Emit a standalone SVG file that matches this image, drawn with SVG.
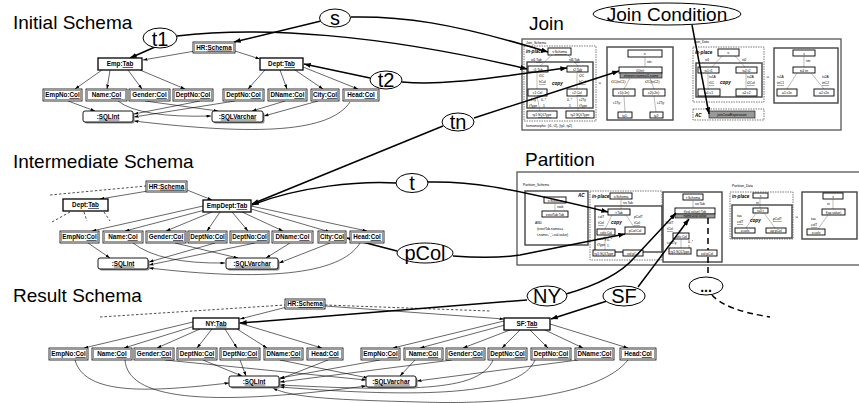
<svg xmlns="http://www.w3.org/2000/svg" width="859" height="403" viewBox="0 0 859 403">
<defs>
<style>
text{font-family:"Liberation Sans",Arial,sans-serif;fill:#000}
.h{font-size:19px}
.lb{font-size:6.3px;font-weight:bold;text-anchor:middle}
.u{text-decoration:underline}
.el{fill:#fff;stroke:#000;stroke-width:1}
.et{font-size:20px;text-anchor:middle}
.ln{stroke:#000;stroke-width:0.6;fill:none;marker-end:url(#a)}
.tk{stroke:#000;stroke-width:1.5;fill:none;marker-end:url(#b)}
.ds{stroke:#000;stroke-width:0.7;fill:none;stroke-dasharray:2.5 2}
.dk{stroke:#000;stroke-width:1.5;fill:none;stroke-dasharray:6 4}
.bo{fill:#fff;stroke:#000;stroke-width:0.8}
.bi{fill:none;stroke:#9a9a9a;stroke-width:1}
.tb{fill:#fff;stroke:#000;stroke-width:1.3}
.sh{fill:#888}
.ty{fill:#fff;stroke:#000;stroke-width:0.9}
.frame{fill:#fff;stroke:#555;stroke-width:1.3}
.m{font-size:3.3px}
.mc{font-size:3.3px;text-anchor:middle}
.mi{font-size:4.6px;font-weight:bold;font-style:italic}
.mb{fill:#fff;stroke:#000;stroke-width:0.9}
.mg{fill:#999;stroke:#000;stroke-width:0.6}
.mt{fill:none;stroke:#444;stroke-width:1.4}
.md{fill:none;stroke:#444;stroke-width:0.7;stroke-dasharray:1.5 1}
.ml{stroke:#555;stroke-width:0.4;fill:none}
</style>
<marker id="a" viewBox="0 0 6 4" refX="6" refY="2" markerWidth="4.5" markerHeight="3" orient="auto" markerUnits="userSpaceOnUse"><path d="M0,0 L6,2 L0,4z"/></marker>
<marker id="b" viewBox="0 0 8 6" refX="8" refY="3" markerWidth="7" markerHeight="5" orient="auto" markerUnits="userSpaceOnUse"><path d="M0,0 L8,3 L0,6z"/></marker>
</defs>
<rect width="859" height="403" fill="#fff"/>

<!-- section titles -->
<text class="h" x="13" y="29">Initial Schema</text>
<text class="h" x="13" y="168">Intermediate Schema</text>
<text class="h" x="13" y="302">Result Schema</text>
<text class="h" x="529" y="30">Join</text>
<text class="h" x="525" y="166">Partition</text>

<!-- Join transformation panel -->
<g id="join">
<rect class="frame" x="522" y="39" width="319" height="91"/>
<text class="m" x="526" y="44">Join_Schema</text>
<rect class="md" x="524" y="46" width="72" height="75"/>
<text class="mi" x="526" y="53">in-place</text>
<rect class="mt" x="527" y="62" width="66" height="46"/>
<line class="ml" x1="552" y1="55" x2="540" y2="66"/><line class="ml" x1="568" y1="55" x2="578" y2="66"/>
<rect class="mb" x="548" y="48" width="23" height="7"/><text class="mc" x="559.5" y="53">s:<tspan class="u">Schema</tspan></text>
<text class="m" x="531" y="61">st1:<tspan class="u">Tab</tspan></text><text class="m" x="569" y="61">st2:<tspan class="u">Tab</tspan></text>
<rect class="mb" x="528" y="66" width="20" height="6"/><text class="mc" x="538" y="70.5">t1:<tspan class="u">Tab</tspan></text>
<rect class="mb" x="567" y="66" width="21" height="6"/><text class="mc" x="577.5" y="70.5">t2:<tspan class="u">Tab</tspan></text>
<line class="ml" x1="537" y1="72" x2="537" y2="89"/><line class="ml" x1="577" y1="72" x2="577" y2="89"/>
<text class="m" x="539" y="77">t1C</text><text class="m" x="539" y="83"><tspan class="u">hCol</tspan></text>
<text class="m" x="579" y="77">t2C</text><text class="m" x="579" y="83"><tspan class="u">hCol</tspan></text>
<text class="mi" x="552" y="85">copy</text>
<rect class="mb" x="528" y="89" width="19" height="7"/><text class="mc" x="537.5" y="94">c1:<tspan class="u">Col</tspan></text>
<rect class="mb" x="567" y="89" width="20" height="7"/><text class="mc" x="577" y="94">c2:<tspan class="u">Col</tspan></text>
<line class="ml" x1="537" y1="96" x2="540" y2="111"/><line class="ml" x1="577" y1="96" x2="578" y2="111"/>
<text class="m" x="529" y="101">c1Ty</text><text class="m" x="541" y="101">0..*</text><text class="m" x="529" y="107">tType</text><text class="m" x="543" y="107">1</text>
<text class="m" x="567" y="101">0..*</text><text class="m" x="579" y="101">c2Ty</text><text class="m" x="569" y="107">1</text><text class="m" x="579" y="107">tType</text>
<rect class="mb" x="527" y="111" width="30" height="7" stroke-width="1.3"/><text class="mc" x="542" y="116">ty1:<tspan class="u">SQLType</tspan></text>
<rect class="mb" x="566" y="111" width="28" height="7" stroke-width="1.3"/><text class="mc" x="580" y="116">ty2:<tspan class="u">SQLType</tspan></text>
<text class="m" x="526" y="127">homomorphic: {t1, t2}, {ty1, ty2}</text>
<text class="m" x="598" y="84" font-size="4">:=</text>
<rect class="mt" x="607" y="47" width="66" height="73"/>
<rect class="mb" x="628" y="50" width="34" height="7"/><text class="mc" x="645" y="55">s:</text>
<line class="ml" x1="645" y1="57" x2="645" y2="67"/><text class="m" x="647" y="63">stn:</text>
<rect class="mb" x="619" y="67" width="43" height="6"/><text class="mc" x="640.5" y="71.5">t1(tn):</text>
<rect class="mg" x="620" y="73" width="42" height="5"/><text class="mc" x="641" y="77">element.name=t1.name</text>
<text class="m" x="611" y="83">t1C(tnC1):</text><text class="m" x="645" y="83">t2C(tnC2):</text>
<line class="ml" x1="630" y1="78" x2="624" y2="89"/><line class="ml" x1="650" y1="78" x2="654" y2="89"/>
<rect class="mb" x="613" y="89" width="22" height="7"/><text class="mc" x="624" y="94">c1(c1n):</text>
<rect class="mb" x="643" y="89" width="22" height="7"/><text class="mc" x="654" y="94">c2(c2n):</text>
<line class="ml" x1="624" y1="96" x2="625" y2="112"/><line class="ml" x1="654" y1="96" x2="656" y2="112"/>
<text class="m" x="613" y="104">c1Ty:</text><text class="m" x="657" y="104">c2Ty:</text>
<rect class="mb" x="618" y="112" width="14" height="6"/><text class="mc" x="625" y="116.5">ty1:</text>
<rect class="mb" x="650" y="112" width="13" height="6"/><text class="mc" x="656.5" y="116.5">ty2:</text>
<text class="m" x="694" y="43">Join_Data</text>
<rect class="md" x="693" y="47" width="71" height="55"/>
<text class="mi" x="695" y="54">in-place</text>
<rect class="mt" x="696" y="63" width="66" height="34"/>
<line class="ml" x1="722" y1="56" x2="712" y2="67"/><line class="ml" x1="735" y1="56" x2="745" y2="67"/>
<rect class="mb" x="718" y="49" width="21" height="7"/><text class="mc" x="728.5" y="54">s:</text>
<text class="m" x="705" y="61">st1</text><text class="m" x="742" y="61">st2</text>
<rect class="mb" x="698" y="67" width="21" height="6"/><text class="mc" x="708.5" y="71.5">tu1:t1</text>
<rect class="mb" x="736" y="67" width="21" height="6"/><text class="mc" x="746.5" y="71.5">tu2:t2</text>
<line class="ml" x1="708" y1="73" x2="708" y2="89"/><line class="ml" x1="746" y1="73" x2="746" y2="89"/>
<text class="m" x="709" y="78">tu1A</text><text class="m" x="709" y="84"><tspan class="u">t1C</tspan></text>
<text class="m" x="747" y="78">tu2A</text><text class="m" x="747" y="84"><tspan class="u">t2Col</tspan></text>
<text class="mi" x="720" y="84">copy</text>
<rect class="mb" x="698" y="89" width="22" height="7"/><text class="mc" x="709" y="94">a1:c1</text>
<rect class="mb" x="736" y="89" width="21" height="7"/><text class="mc" x="746.5" y="94">a2:c2</text>
<text class="m" x="766" y="78" font-size="4">:=</text>
<rect class="mt" x="774" y="48" width="64" height="55"/>
<rect class="mb" x="793" y="50" width="22" height="6"/><text class="mc" x="804" y="54.5">s</text>
<line class="ml" x1="804" y1="56" x2="804" y2="67"/><text class="m" x="806" y="62">stn</text>
<rect class="mb" x="793" y="67" width="22" height="6"/><text class="mc" x="804" y="71.5">tu1:tn</text>
<line class="ml" x1="797" y1="73" x2="787" y2="89"/><line class="ml" x1="811" y1="73" x2="824" y2="89"/>
<text class="m" x="777" y="78">tu1A</text><text class="m" x="777" y="84"><tspan class="u">tnC1</tspan></text>
<text class="m" x="822" y="78">tu2A</text><text class="m" x="822" y="84"><tspan class="u">tnC2</tspan></text>
<rect class="mb" x="777" y="89" width="20" height="7"/><text class="mc" x="787" y="94">a1:c1n</text>
<rect class="mb" x="814" y="89" width="20" height="7"/><text class="mc" x="824" y="94">a2:c2n</text>
<rect class="md" x="693" y="109" width="71" height="11"/>
<text class="mi" x="695" y="117">AC</text>
<rect class="mg" x="709" y="111" width="46" height="7"/><text class="mc" x="732" y="116">joinCondExpression</text>
</g>

<!-- Partition transformation panel -->
<g id="partition">
<rect class="frame" x="517" y="172" width="360" height="93"/>
<text class="m" x="523" y="186">Partition_Schema</text>
<rect class="mt" x="525" y="191" width="63" height="54"/>
<text class="mi" x="578" y="197">AC</text>
<rect class="mb" x="544" y="197" width="22" height="6" stroke-width="1.3"/><text class="mc" x="555" y="201.5">s:Schema</text>
<line class="ml" x1="555" y1="203" x2="555" y2="211"/><text class="m" x="557" y="208">stab</text>
<rect class="mb" x="542" y="211" width="26" height="6" stroke-width="1.3"/><text class="mc" x="555" y="215.5">existTab:Tab</text>
<text class="m" x="535" y="224">AND</text>
<text class="m" x="537" y="230">(existTab.name==</text>
<text class="m" x="537" y="236">t.name+'_'+val.value)</text>
<rect class="md" x="590" y="191" width="72" height="69"/>
<text class="mi" x="592" y="198">in-place</text>
<rect class="mb" x="610" y="193" width="22" height="6"/><text class="mc" x="621" y="197.5">s:Schema</text>
<line class="ml" x1="621" y1="199" x2="621" y2="209"/><text class="m" x="623" y="204">srcTab</text>
<rect class="mt" x="595" y="206" width="67" height="46"/>
<rect class="mb" x="608" y="209" width="22" height="6"/><text class="mc" x="619" y="213.5">t:Tab</text>
<text class="m" x="598" y="218">colT</text><text class="m" x="598" y="224"><tspan class="u">tCol</tspan></text>
<text class="m" x="634" y="218">pColT</text><text class="m" x="634" y="224"><tspan class="u">tCol</tspan></text>
<line class="ml" x1="612" y1="215" x2="605" y2="229"/><line class="ml" x1="626" y1="215" x2="634" y2="227"/>
<text class="mi" x="611" y="224">copy</text>
<rect class="mb" x="597" y="229" width="18" height="6"/><text class="mc" x="606" y="233.5">cols:Col</text>
<rect class="mb" x="625" y="227" width="20" height="7"/><text class="mc" x="635" y="232">pCol:Col</text>
<line class="ml" x1="605" y1="235" x2="605" y2="250"/>
<text class="m" x="597" y="240">colsTy</text><text class="m" x="607" y="241">0..*</text><text class="m" x="597" y="246">tType</text><text class="m" x="607" y="247">1</text>
<rect class="mb" x="593" y="250" width="22" height="6" stroke-width="1.3"/><text class="mc" x="604" y="254.5">ty1:SQLType</text>
<rect class="mb" x="623" y="250" width="20" height="6" stroke-width="1.3"/><text class="mc" x="633" y="254.5">val:pCol</text>
<text class="m" x="665" y="223" font-size="4">:=</text>
<rect class="mt" x="663" y="192" width="59" height="70"/>
<rect class="mb" x="683" y="194" width="20" height="6"/><text class="mc" x="693" y="198.5">r:Schema</text>
<line class="ml" x1="693" y1="200" x2="693" y2="208"/><text class="m" x="695" y="205">srcTab</text>
<rect class="mb" x="675" y="208" width="40" height="6" stroke-width="1.3"/><text class="mc" x="695" y="212.5">f(val.value):Tab</text>
<rect class="mg" x="675" y="214" width="40" height="4"/><text class="mc" x="695" y="217.3">name=val.value</text>
<text class="m" x="667" y="224">colT</text><text class="m" x="667" y="230"><tspan class="u">tCol</tspan></text>
<line class="ml" x1="688" y1="218" x2="680" y2="233"/>
<rect class="mb" x="673" y="233" width="16" height="6"/><text class="mc" x="681" y="237.5">cols:Col</text>
<line class="ml" x1="681" y1="239" x2="681" y2="248"/>
<text class="m" x="667" y="244">colsTy</text><text class="m" x="688" y="243">0..*</text><text class="m" x="688" y="248">1</text>
<rect class="mb" x="669" y="248" width="22" height="6" stroke-width="1.3"/><text class="mc" x="680" y="252.5">ty1:SQLType</text>
<rect class="mb" x="697" y="250" width="20" height="6" stroke-width="1.3"/><text class="mc" x="707" y="254.5">val:pCol</text>
<text class="m" x="732" y="187">Partition_Data</text>
<rect class="md" x="730" y="192" width="63" height="47"/>
<text class="mi" x="732" y="198">in-place</text>
<rect class="mb" x="753" y="193" width="15" height="5"/><text class="mc" x="760.5" y="197">s</text>
<line class="ml" x1="760" y1="198" x2="760" y2="208"/><text class="m" x="756" y="204">st</text>
<rect class="mt" x="732" y="205" width="60" height="33"/>
<rect class="mb" x="753" y="208" width="15" height="5"/><text class="mc" x="760.5" y="212">tu1:t</text>
<text class="m" x="737" y="217">tua</text><text class="m" x="737" y="223"><tspan class="u">colT</tspan></text>
<text class="m" x="773" y="220"><tspan class="u">pColT</tspan></text>
<text class="mi" x="750" y="222">copy</text>
<line class="ml" x1="756" y1="213" x2="746" y2="228"/><line class="ml" x1="764" y1="213" x2="775" y2="228"/>
<rect class="mb" x="735" y="228" width="20" height="5"/><text class="mc" x="745" y="232">a:cols</text>
<rect class="mb" x="766" y="228" width="20" height="5"/><text class="mc" x="776" y="232">ap:pCol</text>
<text class="m" x="795" y="218" font-size="4">:=</text>
<rect class="mt" x="802" y="192" width="55" height="47"/>
<rect class="mb" x="823" y="193" width="20" height="6"/><text class="mc" x="833" y="197.5">s</text>
<line class="ml" x1="833" y1="199" x2="833" y2="209"/><text class="m" x="827" y="205">st</text>
<rect class="mb" x="822" y="209" width="23" height="6"/><text class="mc" x="833.5" y="213.5">f(ap.value)</text>
<text class="m" x="811" y="220">tua</text><text class="m" x="811" y="226"><tspan class="u">colT</tspan></text>
<line class="ml" x1="828" y1="215" x2="818" y2="229"/>
<rect class="mb" x="807" y="229" width="18" height="6"/><text class="mc" x="816" y="233.5">a:cols</text>
</g>

<!-- connectors -->
<g id="connectors">
<!-- initial schema -->
<path class="ln" d="M195,51 L143,60"/>
<path class="ln" d="M235,51 L260,59"/>
<path class="ln" d="M102,70 L75,89"/>
<path class="ln" d="M110,70 L107,89"/>
<path class="ln" d="M128,70 L142,89"/>
<path class="ln" d="M140,70 L185,89"/>
<path class="ln" d="M265,70 L248,89"/>
<path class="ln" d="M280,70 L287,89"/>
<path class="ln" d="M295,70 L323,89"/>
<path class="ln" d="M303,67 L358,89"/>
<path class="ln" d="M68,101 L95,111"/>
<path class="ln" d="M118,101 Q140,118 211,116"/>
<path class="ln" d="M145,101 L218,111"/>
<path class="ln" d="M200,101 L134,114"/>
<path class="ln" d="M235,101 L134,117"/>
<path class="ln" d="M285,101 L252,111"/>
<path class="ln" d="M318,101 L264,116"/>
<path class="ln" d="M350,102 C330,132 260,136 134,121"/>
<!-- intermediate schema -->
<path class="ds" d="M50,195 L146,186"/>
<path class="ln" d="M148,191 L100,199"/>
<path class="ln" d="M187,190 L212,200"/>
<path class="ds" d="M70,212 L52,222 M84,212 L87,221 M104,212 L110,221"/>
<path class="ln" d="M203,206 L92,231"/>
<path class="ln" d="M205,210 L125,231"/>
<path class="ln" d="M212,212 L166,231"/>
<path class="ln" d="M220,212 L207,231"/>
<path class="ln" d="M232,212 L248,231"/>
<path class="ln" d="M242,212 L283,231"/>
<path class="ln" d="M251,209 L330,232"/>
<path class="ln" d="M251,206 L367,231"/>
<path class="ln" d="M88,243 L110,258"/>
<path class="ln" d="M133,243 Q160,264 225,263"/>
<path class="ln" d="M175,243 L238,258"/>
<path class="ln" d="M215,243 L149,262"/>
<path class="ln" d="M255,243 L149,265"/>
<path class="ln" d="M290,243 L266,258"/>
<path class="ln" d="M330,243 L279,263"/>
<path class="ln" d="M360,243 C340,276 260,281 149,268"/>
<!-- result schema -->
<path class="ds" d="M100,317 L285,305 M325,305 L490,311"/>
<path class="ln" d="M287,307 L240,319"/>
<path class="ln" d="M325,306 L504,319"/>
<path class="ln" d="M193,322 L84,348"/>
<path class="ln" d="M195,326 L124,348"/>
<path class="ln" d="M200,329 L157,348"/>
<path class="ln" d="M212,329 L197,348"/>
<path class="ln" d="M225,329 L237,348"/>
<path class="ln" d="M237,329 L267,348"/>
<path class="ln" d="M239,323 L322,348"/>
<path class="ln" d="M504,321 L393,348"/>
<path class="ln" d="M505,325 L420,348"/>
<path class="ln" d="M510,330 L463,348"/>
<path class="ln" d="M520,330 L502,348"/>
<path class="ln" d="M530,330 L548,348"/>
<path class="ln" d="M545,330 L583,348"/>
<path class="ln" d="M550,324 L628,348"/>
<path class="ln" d="M75,360 C85,396 150,392 229,383"/>
<path class="ln" d="M125,360 C128,398 200,408 366,386"/>
<path class="ln" d="M165,360 L366,380"/>
<path class="ln" d="M203,360 L242,376"/>
<path class="ln" d="M240,360 L246,376"/>
<path class="ln" d="M280,360 L368,378"/>
<path class="ln" d="M328,360 L280,379"/>
<path class="ln" d="M380,360 L280,378"/>
<path class="ln" d="M415,360 L400,376"/>
<path class="ln" d="M452,360 L280,382"/>
<path class="ln" d="M493,360 C480,390 420,392 280,385"/>
<path class="ln" d="M535,360 C520,396 420,398 280,387"/>
<path class="ln" d="M578,360 L417,381"/>
<path class="ln" d="M628,360 C600,396 500,405 420,402 C340,400 292,398 273,388"/>
<!-- mapping labels to schema elements -->
<path class="tk" d="M321,21 L234,42"/>
<path class="tk" d="M351,17 C400,16 450,22 548,52"/>
<path class="tk" d="M155,47 L130,58"/>
<path class="tk" d="M177,36 C260,26 380,34 527,69"/>
<path class="tk" d="M370,78 L304,64"/>
<path class="tk" d="M402,82 C450,86 500,76 567,68"/>
<path class="tk" d="M443,126 L252,204"/>
<path class="tk" d="M474,118 L619,71"/>
<path class="tk" d="M396,183 C360,181 300,186 252,205"/>
<path class="tk" d="M428,182 C470,181 500,186 608,212"/>
<path class="tk" d="M397,251 L347,238"/>
<path class="tk" d="M453,256 C480,258 500,258 520,255 L625,234"/>
<path class="tk" d="M527,300 L240,323"/>
<path class="tk" d="M566,294 Q615,280 634,258 L676,213"/>
<path class="tk" d="M607,301 L551,319"/>
<path class="tk" d="M638,287 L689,219"/>
<path class="tk" d="M692,25 L709,114"/>
<path class="dk" d="M708,218 L708,250 M708,257 L708,277"/>
<path class="dk" d="M712,295 Q725,310 770,317"/>
</g>

<!-- label ellipses -->
<g id="lbl-s"><ellipse class="el" cx="335" cy="18" rx="15.5" ry="9"/><text class="et" x="335" y="25">s</text></g>
<g id="lbl-t1"><ellipse class="el" cx="160" cy="38" rx="17" ry="10"/><text class="et" x="160" y="45.5">t1</text></g>
<g id="lbl-t2"><ellipse class="el" cx="386" cy="80" rx="16" ry="9"/><text class="et" x="386" y="87">t2</text></g>
<g id="lbl-tn"><ellipse class="el" cx="458" cy="122" rx="16" ry="9"/><text class="et" x="458" y="129">tn</text></g>
<g id="lbl-t"><ellipse class="el" cx="412" cy="183" rx="16" ry="9.5"/><text class="et" x="412" y="190">t</text></g>
<g id="lbl-pcol"><ellipse class="el" cx="425" cy="253" rx="28" ry="10"/><text class="et" x="425" y="260">pCol</text></g>
<g id="lbl-ny"><ellipse class="el" cx="547" cy="296" rx="20" ry="10"/><text class="et" x="547" y="303">NY</text></g>
<g id="lbl-sf"><ellipse class="el" cx="624" cy="296" rx="21" ry="10"/><text class="et" x="624" y="303">SF</text></g>
<g id="lbl-more"><ellipse class="el" cx="706" cy="286" rx="17" ry="9"/><text x="706" y="292" font-size="14" font-weight="bold" text-anchor="middle">...</text></g>
<g id="lbl-joincond"><ellipse class="el" cx="667" cy="14" rx="74" ry="11"/><text class="et" x="667" y="21" style="font-size:19px">Join Condition</text></g>

<!-- initial schema nodes -->
<g id="i-hr"><rect class="bo" x="193" y="42" width="42" height="11"/><rect class="bi" x="194.5" y="43.5" width="39" height="8"/><text class="lb" x="214" y="49.7">HR:<tspan class="u">Schema</tspan></text></g>
<g id="i-emp"><rect class="tb" x="98" y="58" width="44" height="12"/><text class="lb" x="120" y="66.2">Emp:<tspan class="u">Tab</tspan></text></g>
<g id="i-dept"><rect class="tb" x="260" y="58" width="43" height="12"/><text class="lb" x="281.5" y="66.2">Dept:<tspan class="u">Tab</tspan></text></g>
<g id="i-empno"><rect class="bo" x="43" y="89" width="39" height="12"/><rect class="bi" x="44.5" y="90.5" width="36" height="9"/><text class="lb" x="62.5" y="97.2">EmpNo:<tspan class="u">Col</tspan></text></g>
<g id="i-name"><rect class="bo" x="86" y="89" width="41" height="12"/><rect class="bi" x="87.5" y="90.5" width="38" height="9"/><text class="lb" x="106.5" y="97.2">Name:<tspan class="u">Col</tspan></text></g>
<g id="i-gender"><rect class="bo" x="129" y="89" width="41" height="12"/><rect class="bi" x="130.5" y="90.5" width="38" height="9"/><text class="lb" x="149.5" y="97.2">Gender:<tspan class="u">Col</tspan></text></g>
<g id="i-deptno1"><rect class="bo" x="173" y="89" width="40" height="12"/><rect class="bi" x="174.5" y="90.5" width="37" height="9"/><text class="lb" x="193" y="97.2">DeptNo:<tspan class="u">Col</tspan></text></g>
<g id="i-deptno2"><rect class="bo" x="223" y="89" width="41" height="12"/><rect class="bi" x="224.5" y="90.5" width="38" height="9"/><text class="lb" x="243.5" y="97.2">DeptNo:<tspan class="u">Col</tspan></text></g>
<g id="i-dname"><rect class="bo" x="268" y="89" width="39" height="12"/><rect class="bi" x="269.5" y="90.5" width="36" height="9"/><text class="lb" x="287.5" y="97.2">DName:<tspan class="u">Col</tspan></text></g>
<g id="i-city"><rect class="bo" x="311" y="89" width="28" height="12"/><rect class="bi" x="312.5" y="90.5" width="25" height="9"/><text class="lb" x="325" y="97.2">City:<tspan class="u">Col</tspan></text></g>
<g id="i-head"><rect class="bo" x="343" y="89" width="36" height="12"/><rect class="bi" x="344.5" y="90.5" width="33" height="9"/><text class="lb" x="361" y="97.2">Head:<tspan class="u">Col</tspan></text></g>
<g id="i-sqlint"><rect class="sh" x="84.5" y="112.5" width="50" height="11" rx="2"/><rect class="ty" x="83" y="111" width="50" height="11" rx="2"/><text class="lb" x="108" y="118.7">:<tspan class="u">SQLInt</tspan></text></g>
<g id="i-sqlvarchar"><rect class="sh" x="213.5" y="112.5" width="51" height="11" rx="2"/><rect class="ty" x="212" y="111" width="51" height="11" rx="2"/><text class="lb" x="237.5" y="118.7">:<tspan class="u">SQLVarchar</tspan></text></g>

<!-- intermediate schema nodes -->
<g id="m-hr"><rect class="bo" x="146" y="181" width="41" height="11"/><rect class="bi" x="147.5" y="182.5" width="38" height="8"/><text class="lb" x="166.5" y="188.7">HR:<tspan class="u">Schema</tspan></text></g>
<g id="m-dept"><rect class="tb" x="63" y="199" width="45" height="12"/><text class="lb" x="85.5" y="207.2">Dept:<tspan class="u">Tab</tspan></text></g>
<g id="m-empdept"><rect class="tb" x="203" y="200" width="48" height="12"/><text class="lb" x="227" y="208.2">EmpDept:<tspan class="u">Tab</tspan></text></g>
<g id="m-empno"><rect class="bo" x="60" y="231" width="39" height="12"/><rect class="bi" x="61.5" y="232.5" width="36" height="9"/><text class="lb" x="79.5" y="239.2">EmpNo:<tspan class="u">Col</tspan></text></g>
<g id="m-name"><rect class="bo" x="103" y="231" width="40" height="12"/><rect class="bi" x="104.5" y="232.5" width="37" height="9"/><text class="lb" x="123" y="239.2">Name:<tspan class="u">Col</tspan></text></g>
<g id="m-gender"><rect class="bo" x="146" y="231" width="40" height="12"/><rect class="bi" x="147.5" y="232.5" width="37" height="9"/><text class="lb" x="166" y="239.2">Gender:<tspan class="u">Col</tspan></text></g>
<g id="m-deptno1"><rect class="bo" x="188" y="231" width="39" height="12"/><rect class="bi" x="189.5" y="232.5" width="36" height="9"/><text class="lb" x="207.5" y="239.2">DeptNo:<tspan class="u">Col</tspan></text></g>
<g id="m-deptno2"><rect class="bo" x="230" y="231" width="39" height="12"/><rect class="bi" x="231.5" y="232.5" width="36" height="9"/><text class="lb" x="249.5" y="239.2">DeptNo:<tspan class="u">Col</tspan></text></g>
<g id="m-dname"><rect class="bo" x="272" y="231" width="41" height="12"/><rect class="bi" x="273.5" y="232.5" width="38" height="9"/><text class="lb" x="292.5" y="239.2">DName:<tspan class="u">Col</tspan></text></g>
<g id="m-city"><rect class="bo" x="318" y="231" width="28" height="12"/><rect class="bi" x="319.5" y="232.5" width="25" height="9"/><text class="lb" x="332" y="239.2">City:<tspan class="u">Col</tspan></text></g>
<g id="m-head"><rect class="bo" x="350" y="231" width="34" height="12"/><rect class="bi" x="351.5" y="232.5" width="31" height="9"/><text class="lb" x="367" y="239.2">Head:<tspan class="u">Col</tspan></text></g>
<g id="m-sqlint"><rect class="sh" x="99.5" y="259.5" width="50" height="11" rx="2"/><rect class="ty" x="98" y="258" width="50" height="11" rx="2"/><text class="lb" x="123" y="265.7">:<tspan class="u">SQLInt</tspan></text></g>
<g id="m-sqlvarchar"><rect class="sh" x="227.5" y="259.5" width="52" height="11" rx="2"/><rect class="ty" x="226" y="258" width="52" height="11" rx="2"/><text class="lb" x="252" y="265.7">:<tspan class="u">SQLVarchar</tspan></text></g>

<!-- result schema nodes -->
<g id="r-hr"><rect class="bo" x="285" y="299" width="40" height="10"/><rect class="bi" x="286.5" y="300.5" width="37" height="7"/><text class="lb" x="305" y="306.2">HR:<tspan class="u">Schema</tspan></text></g>
<g id="r-ny"><rect class="tb" x="193" y="318" width="46" height="11"/><text class="lb" x="216" y="325.7">NY:<tspan class="u">Tab</tspan></text></g>
<g id="r-sf"><rect class="tb" x="504" y="318" width="46" height="12"/><text class="lb" x="527" y="326.2">SF:<tspan class="u">Tab</tspan></text></g>
<g id="r-ny-empno"><rect class="bo" x="49" y="348" width="39" height="12"/><rect class="bi" x="50.5" y="349.5" width="36" height="9"/><text class="lb" x="68.5" y="356.2">EmpNo:<tspan class="u">Col</tspan></text></g>
<g id="r-ny-name"><rect class="bo" x="92" y="348" width="40" height="12"/><rect class="bi" x="93.5" y="349.5" width="37" height="9"/><text class="lb" x="112" y="356.2">Name:<tspan class="u">Col</tspan></text></g>
<g id="r-ny-gender"><rect class="bo" x="134" y="348" width="40" height="12"/><rect class="bi" x="135.5" y="349.5" width="37" height="9"/><text class="lb" x="154" y="356.2">Gender:<tspan class="u">Col</tspan></text></g>
<g id="r-ny-deptno1"><rect class="bo" x="177" y="348" width="40" height="12"/><rect class="bi" x="178.5" y="349.5" width="37" height="9"/><text class="lb" x="197" y="356.2">DeptNo:<tspan class="u">Col</tspan></text></g>
<g id="r-ny-deptno2"><rect class="bo" x="220" y="348" width="40" height="12"/><rect class="bi" x="221.5" y="349.5" width="37" height="9"/><text class="lb" x="240" y="356.2">DeptNo:<tspan class="u">Col</tspan></text></g>
<g id="r-ny-dname"><rect class="bo" x="264" y="348" width="39" height="12"/><rect class="bi" x="265.5" y="349.5" width="36" height="9"/><text class="lb" x="283.5" y="356.2">DName:<tspan class="u">Col</tspan></text></g>
<g id="r-ny-head"><rect class="bo" x="307" y="348" width="36" height="12"/><rect class="bi" x="308.5" y="349.5" width="33" height="9"/><text class="lb" x="325" y="356.2">Head:<tspan class="u">Col</tspan></text></g>
<g id="r-sf-empno"><rect class="bo" x="361" y="348" width="39" height="12"/><rect class="bi" x="362.5" y="349.5" width="36" height="9"/><text class="lb" x="380.5" y="356.2">EmpNo:<tspan class="u">Col</tspan></text></g>
<g id="r-sf-name"><rect class="bo" x="404" y="348" width="39" height="12"/><rect class="bi" x="405.5" y="349.5" width="36" height="9"/><text class="lb" x="423.5" y="356.2">Name:<tspan class="u">Col</tspan></text></g>
<g id="r-sf-gender"><rect class="bo" x="446" y="348" width="39" height="12"/><rect class="bi" x="447.5" y="349.5" width="36" height="9"/><text class="lb" x="465.5" y="356.2">Gender:<tspan class="u">Col</tspan></text></g>
<g id="r-sf-deptno1"><rect class="bo" x="488" y="348" width="39" height="12"/><rect class="bi" x="489.5" y="349.5" width="36" height="9"/><text class="lb" x="507.5" y="356.2">DeptNo:<tspan class="u">Col</tspan></text></g>
<g id="r-sf-deptno2"><rect class="bo" x="531" y="348" width="40" height="12"/><rect class="bi" x="532.5" y="349.5" width="37" height="9"/><text class="lb" x="551" y="356.2">DeptNo:<tspan class="u">Col</tspan></text></g>
<g id="r-sf-dname"><rect class="bo" x="575" y="348" width="39" height="12"/><rect class="bi" x="576.5" y="349.5" width="36" height="9"/><text class="lb" x="594.5" y="356.2">DName:<tspan class="u">Col</tspan></text></g>
<g id="r-sf-head"><rect class="bo" x="620" y="348" width="36" height="12"/><rect class="bi" x="621.5" y="349.5" width="33" height="9"/><text class="lb" x="638" y="356.2">Head:<tspan class="u">Col</tspan></text></g>
<g id="r-sqlint"><rect class="sh" x="230.5" y="377.5" width="50" height="11" rx="2"/><rect class="ty" x="229" y="376" width="50" height="11" rx="2"/><text class="lb" x="254" y="383.7">:<tspan class="u">SQLInt</tspan></text></g>
<g id="r-sqlvarchar"><rect class="sh" x="367.5" y="377.5" width="50" height="11" rx="2"/><rect class="ty" x="366" y="376" width="50" height="11" rx="2"/><text class="lb" x="391" y="383.7">:<tspan class="u">SQLVarchar</tspan></text></g>
</svg>
